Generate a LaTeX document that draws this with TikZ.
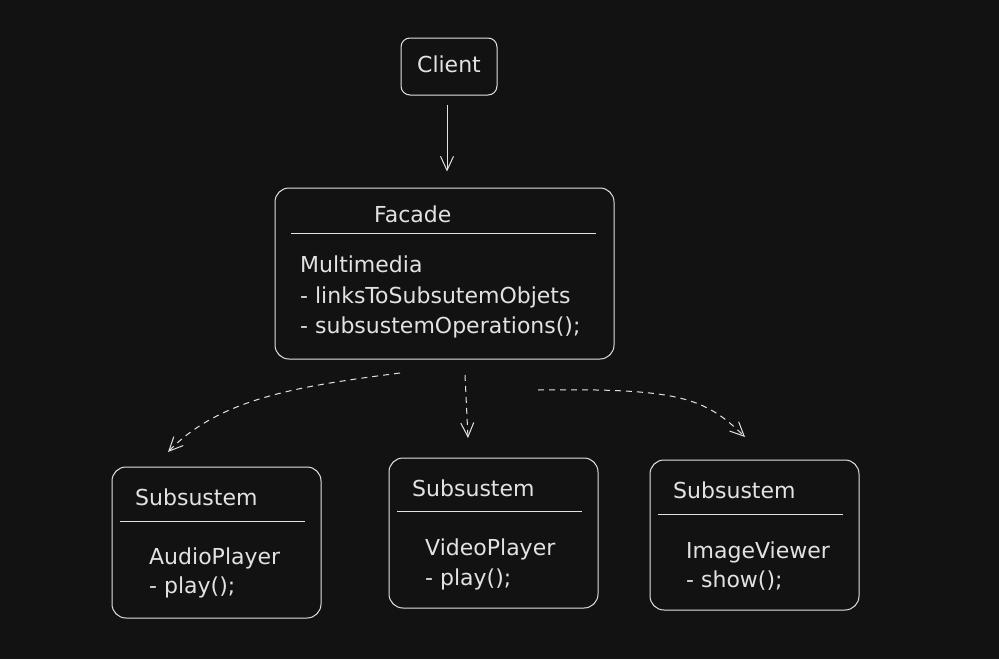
\documentclass[tikz,border=0pt]{standalone}
\usepackage{fontspec}
\setmainfont{DejaVu Sans}
\usetikzlibrary{arrows.meta}
\definecolor{bg}{HTML}{121212}
\definecolor{ink}{HTML}{E2E2E2}
\begin{document}
\begin{tikzpicture}[x=1pt,y=-1pt,
  box/.style={draw=ink, line width=1pt, rounded corners=14pt, inner sep=0pt},
  txt/.style={text=ink, font=\fontsize{22}{26}\selectfont, anchor=base west, inner sep=0pt},
  sep/.style={draw=ink, line width=0.8pt},
  arr/.style={draw=ink, line width=1pt, -{Straight Barb[length=14pt,width=13pt,line width=1pt]}},
  darr/.style={arr, dash pattern=on 6pt off 5pt}
]
\fill[bg] (0,0) rectangle (999,659);
\useasboundingbox (0,0) rectangle (999,659);

% Client
\node[box, rounded corners=9pt, minimum width=96pt, minimum height=57pt] (client) at (449,66.5) {};
\node[txt, anchor=base] (clientt) at (449,72) {Client};

% Facade
\node[box, minimum width=339pt, minimum height=171pt] (facade) at (444.5,273.5) {};
\node[txt] (facadet) at (374,222) {Facade};
\draw[sep] (291,233) -- (596,233);
\node[txt] (f1) at (300,272) {Multimedia};
\node[txt] (f2) at (300,303) {- linksToSubsutemObjets};
\node[txt] (f3) at (300,333) {- subsustemOperations();};

% Subsystem 1
\node[box, minimum width=209pt, minimum height=151pt] (s1) at (216.5,542.5) {};
\node[txt] (s1t) at (135,505) {Subsustem};
\draw[sep] (120,521) -- (305,521);
\node[txt] (s1a) at (149,564) {AudioPlayer};
\node[txt] (s1b) at (149,593) {- play();};

% Subsystem 2
\node[box, minimum width=209pt, minimum height=150pt] (s2) at (493.5,533) {};
\node[txt] (s2t) at (412,496) {Subsustem};
\draw[sep] (397,511) -- (582,511);
\node[txt] (s2a) at (425,555) {VideoPlayer};
\node[txt] (s2b) at (425,585) {- play();};

% Subsystem 3
\node[box, minimum width=209pt, minimum height=150pt] (s3) at (754.5,535) {};
\node[txt] (s3t) at (673,498) {Subsustem};
\draw[sep] (658,514) -- (843,514);
\node[txt] (s3a) at (686,558) {ImageViewer};
\node[txt] (s3b) at (686,587) {- show();};

% connectors
\coordinate (cs) at ([xshift=-2pt]client.south);
\draw[arr, shorten <=9pt, shorten >=16pt] (cs) -- (cs |- facade.north);

\coordinate (d1s) at (400,373);
\coordinate (d1e) at (168,452);
\draw[darr] (d1s) .. controls (300,386) and (220,398) .. (d1e);

\coordinate (d2s) at (465,375);
\coordinate (d2e) at (468,438);
\draw[darr] (d2s) -- (d2e);

\coordinate (d3s) at (538,390);
\coordinate (d3e) at (745,437);
\draw[darr] (d3s) .. controls (680,388) and (705,398) .. (d3e);
\end{tikzpicture}
\end{document}
